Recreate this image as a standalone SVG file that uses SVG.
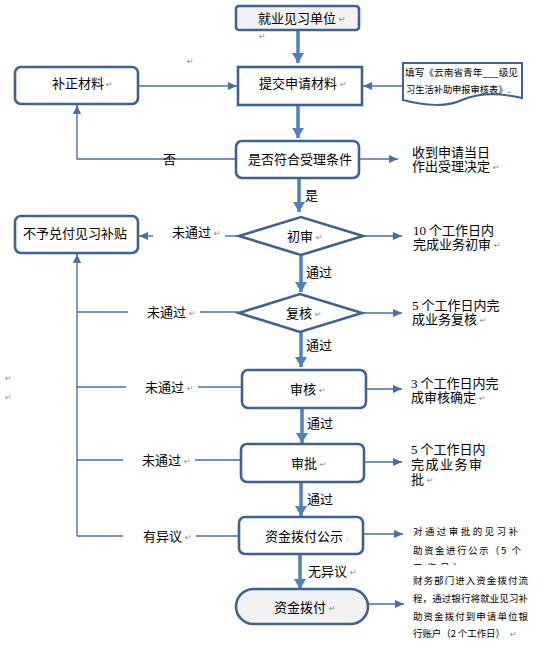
<svg xmlns="http://www.w3.org/2000/svg" width="556" height="658" viewBox="0 0 556 658">
<style>
.box{fill:#fff;stroke:#41618f;stroke-width:2.6}
.gbox{fill:#f2f2f2;stroke:#41618f;stroke-width:2.6}
.t{font-family:"Noto Sans CJK SC","Noto Sans",sans-serif;font-size:13px;fill:#000}
.s{font-family:"Noto Sans CJK SC","Noto Sans",sans-serif;font-size:9.5px;fill:#000}
.d{font-family:"Liberation Serif",serif;font-size:13px;fill:#000}
.m{font-family:"DejaVu Sans",sans-serif;font-size:8px;fill:#888}
.thick{stroke:#4f81bd;stroke-width:3.5;fill:none}
.thin{stroke:#4a6fa5;stroke-width:1.4;fill:none}
</style>
<defs>
<marker id="ah" markerUnits="userSpaceOnUse" markerWidth="12" markerHeight="12" refX="10" refY="6" orient="auto">
<path d="M0,0 L10,6 L0,12 Z" fill="#4f81bd"/>
</marker>
<marker id="at" markerUnits="userSpaceOnUse" markerWidth="10" markerHeight="8" refX="9" refY="4" orient="auto">
<path d="M0,0 L9,4 L0,8 Z" fill="#4a6fa5"/>
</marker>
<clipPath id="clipPub"><rect x="405" y="520" width="140" height="45"/></clipPath>
</defs>

<g id="connectors">
<path class="thick" d="M298,30 V63" marker-end="url(#ah)"/>
<path class="thick" d="M298,105 V138" marker-end="url(#ah)"/>
<path class="thick" d="M299,178 V212" marker-end="url(#ah)"/>
<path class="thick" d="M301,255 V292" marker-end="url(#ah)"/>
<path class="thick" d="M301,332 V367" marker-end="url(#ah)"/>
<path class="thick" d="M302,408 V443" marker-end="url(#ah)"/>
<path class="thick" d="M301,482 V516" marker-end="url(#ah)"/>
<path class="thick" d="M300,554 V589" marker-end="url(#ah)"/>

<path class="thin" d="M138,86 H237" marker-end="url(#at)"/>
<path class="thin" d="M403,86 H363" marker-end="url(#at)"/>
<path class="thin" d="M236,159 H77 V105" marker-end="url(#at)"/>
<path class="thin" d="M359,159 H398" marker-end="url(#at)"/>
<path class="thin" d="M364,236 H402" marker-end="url(#at)"/>
<path class="thin" d="M362,313 H402" marker-end="url(#at)"/>
<path class="thin" d="M366,389 H402" marker-end="url(#at)"/>
<path class="thin" d="M364,462 H402" marker-end="url(#at)"/>
<path class="thin" d="M363,534 H403" marker-end="url(#at)"/>
<path class="thin" d="M368,604 H404" marker-end="url(#at)"/>

<path class="thin" d="M239,236 H225"/>
<path class="thin" d="M153,236 H139" marker-end="url(#at)"/>
<path class="thin" d="M77,536 V254" marker-end="url(#at)"/>
<path class="thin" d="M77,312 H128 M200,312 H239"/>
<path class="thin" d="M77,387 H126 M198,387 H242"/>
<path class="thin" d="M77,460 H123 M195,460 H241"/>
<path class="thin" d="M77,536 H123 M196,536 H239"/>
</g>

<g id="n-unit"><rect class="gbox" x="236" y="6" width="123" height="24" rx="3"/><text class="t" x="258" y="23">就业见习单位</text><text class="m" x="339" y="22">↵</text></g>
<g id="n-submit"><rect class="box" x="238" y="67" width="124" height="38"/><text class="t" x="259" y="88">提交申请材料</text><text class="m" x="340" y="87">↵</text></g>
<g id="n-fix"><rect class="box" x="15" y="67" width="123" height="37" rx="6"/><text class="t" x="52" y="88">补正材料</text><text class="m" x="106" y="87">↵</text></g>
<g id="n-form"><path d="M403,63 H522 V98 C500,93 478,93 462,100 C448,107 425,106 403,100 Z" fill="#fff" stroke="#41618f" stroke-width="2"/>
<text class="s" x="405" y="76" textLength="113" lengthAdjust="spacingAndGlyphs">填写《云南省青年___级见</text>
<text class="s" x="406" y="93" textLength="104" lengthAdjust="spacingAndGlyphs">习生活补助申报审核表》.</text></g>
<g id="n-check"><rect class="box" x="236" y="141" width="123" height="37" rx="6"/><text class="t" x="248" y="164">是否符合受理条件</text></g>
<g id="l-no"><text class="t" x="163" y="164">否</text></g>
<g id="r-accept"><text class="t" x="412" y="157">收到申请当日</text><text class="t" x="412" y="171">作出受理决定</text><text class="m" x="493" y="170">↵</text></g>
<g id="l-yes"><text class="t" x="305" y="200">是</text></g>
<g id="n-first"><path class="box" d="M239,236 L301,217 L363,236 L301,255 Z"/><text class="t" x="287" y="241">初审</text><text class="m" x="316" y="240">↵</text></g>
<g id="l-f1"><text class="t" x="172" y="237">未通过</text><text class="m" x="214" y="236">↵</text></g>
<g id="n-deny"><rect class="box" x="15" y="216" width="123" height="37" rx="6"/><text class="t" x="23" y="238">不予兑付见习补贴</text></g>
<g id="r-first"><text class="t" x="413" y="235"><tspan class="d">10</tspan> 个工作日内</text><text class="t" x="413" y="249">完成业务初审</text><text class="m" x="494" y="248">↵</text></g>
<g id="l-p1"><text class="t" x="306" y="277">通过</text></g>
<g id="n-review"><path class="box" d="M239,313 L300,294 L362,313 L300,332 Z"/><text class="t" x="286" y="318">复核</text><text class="m" x="315" y="317">↵</text></g>
<g id="l-f2"><text class="t" x="147" y="317">未通过</text><text class="m" x="189" y="316">↵</text></g>
<g id="r-review"><text class="t" x="412" y="310"><tspan class="d">5</tspan> 个工作日内完</text><text class="t" x="412" y="324">成业务复核</text><text class="m" x="480" y="323">↵</text></g>
<g id="l-p2"><text class="t" x="306" y="350">通过</text></g>
<g id="n-audit"><rect class="box" x="242" y="370" width="124" height="38" rx="6"/><text class="t" x="290" y="394">审核</text><text class="m" x="319" y="393">↵</text></g>
<g id="l-f3"><text class="t" x="145" y="392">未通过</text><text class="m" x="187" y="391">↵</text></g>
<g id="r-audit"><text class="t" x="411" y="388"><tspan class="d">3</tspan> 个工作日内完</text><text class="t" x="411" y="402">成审核确定</text><text class="m" x="479" y="401">↵</text></g>
<g id="l-p3"><text class="t" x="307" y="428">通过</text></g>
<g id="n-approve"><rect class="box" x="241" y="444" width="123" height="38" rx="6"/><text class="t" x="291" y="468">审批</text><text class="m" x="320" y="467">↵</text></g>
<g id="l-f4"><text class="t" x="142" y="465">未通过</text><text class="m" x="184" y="464">↵</text></g>
<g id="r-approve"><text class="t" x="411" y="454"><tspan class="d">5</tspan> 个工作日内</text><text class="t" x="411" y="469" textLength="71">完成业务审</text><text class="t" x="411" y="484">批</text><text class="m" x="427" y="483">↵</text></g>
<g id="l-p4"><text class="t" x="307" y="504">通过</text></g>
<g id="n-publish"><rect class="box" x="239" y="517" width="124" height="37" rx="6"/><text class="t" x="265" y="541">资金拨付公示</text><text class="m" x="346" y="540">.</text></g>
<g id="l-obj"><text class="t" x="143" y="541">有异议</text><text class="m" x="185" y="540">↵</text></g>
<g id="r-publish" clip-path="url(#clipPub)"><text class="s" x="413" y="535" textLength="105" lengthAdjust="spacing">对通过审批的见习补</text><text class="s" x="413" y="554" textLength="108" lengthAdjust="spacing">助资金进行公示（5 个</text><text class="s" x="413" y="571" textLength="50" lengthAdjust="spacing">工作日）</text></g>
<g id="l-noobj"><text class="t" x="308" y="576">无异议</text><text class="m" x="350" y="575">↵</text></g>
<g id="n-pay"><rect class="gbox" x="236" y="589" width="132" height="35" rx="17.5"/><text class="t" x="274" y="612">资金拨付</text><text class="m" x="329" y="611">↵</text></g>
<g id="r-pay"><text class="s" x="413" y="584" textLength="115" lengthAdjust="spacing">财务部门进入资金拨付流</text><text class="s" x="413" y="602" textLength="115" lengthAdjust="spacing">程，通过银行将就业见习补</text><text class="s" x="413" y="620" textLength="115" lengthAdjust="spacing">助资金拨付到申请单位银</text><text class="s" x="413" y="637" textLength="92" lengthAdjust="spacing">行账户（2 个工作日）</text><text class="m" x="510" y="637">↵</text></g>
<g id="marks"><text class="m" x="259" y="39">↵</text><text class="m" x="187" y="64">↵</text><text class="m" x="5" y="381">↵</text><text class="m" x="5" y="400">↵</text></g>
</svg>
